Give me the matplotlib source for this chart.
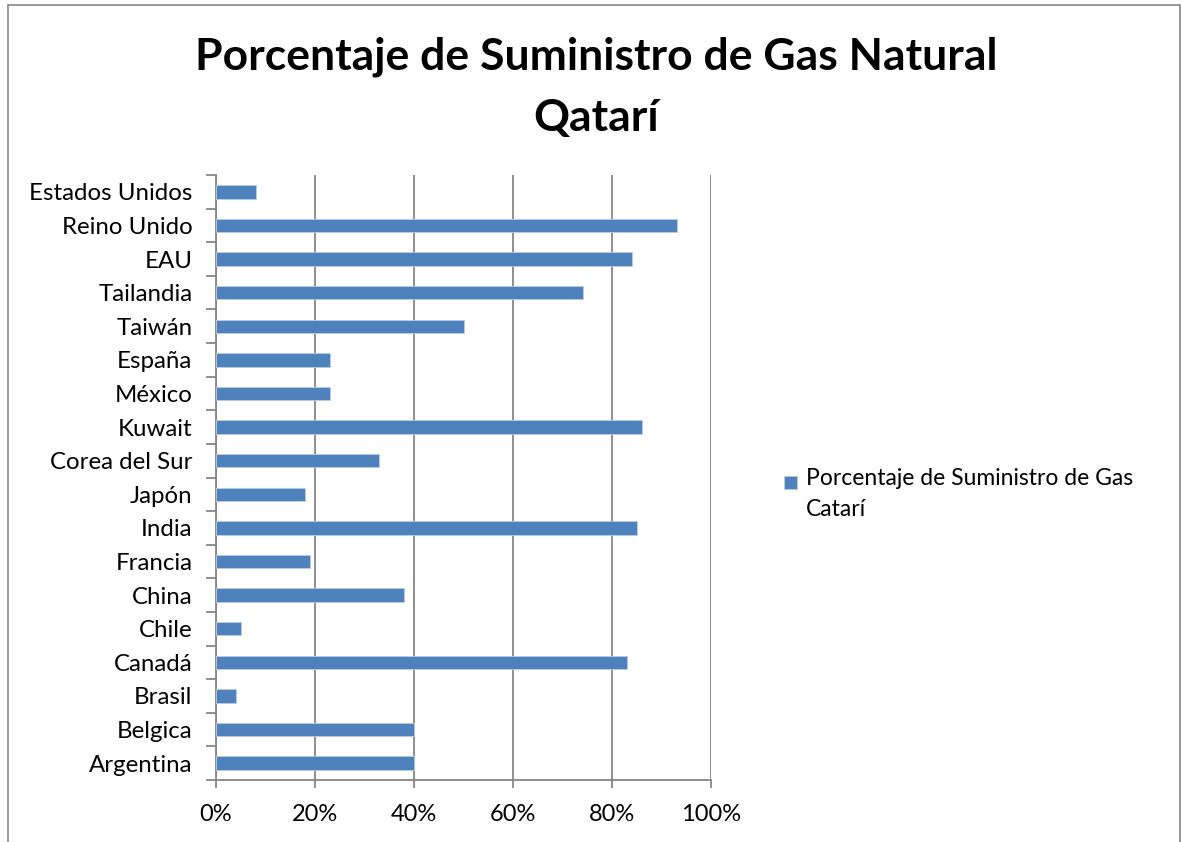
import matplotlib
matplotlib.use('Agg')
from matplotlib import pyplot as plt
from matplotlib.patches import Rectangle
from matplotlib.ticker import FuncFormatter

plt.rcParams['font.family'] = ['Lato', 'DejaVu Sans']

paises = ['Argentina', 'Belgica', 'Brasil', 'Canadá', 'Chile', 'China', 'Francia',
          'India', 'Japón', 'Corea del Sur', 'Kuwait', 'México', 'España', 'Taiwán',
          'Tailandia', 'EAU', 'Reino Unido', 'Estados Unidos']
porcentajes = [0.40, 0.40, 0.04, 0.83, 0.05, 0.38, 0.19,
               0.85, 0.18, 0.33, 0.86, 0.23, 0.23, 0.50,
               0.74, 0.84, 0.93, 0.08]
ticks_x = [0, 0.2, 0.4, 0.6, 0.8, 1.0]

titulo = 'Porcentaje de Suministro de Gas Natural\nQatarí'
serie = 'Porcentaje de Suministro de Gas\nCatarí'

W, H = 1183, 842
fig = plt.figure(figsize=(W / 100, H / 100), dpi=100)
ax = fig.add_axes([216 / W, 1 - 780 / H, (711.3 - 216) / W, (780 - 175) / H])

gris = '#868686'
azul = '#4F81BD'

# borde exterior del grafico
fig.patches.append(Rectangle((8 / W, -0.05), (1180 - 8) / W, 1.05 - 5 / H,
                             transform=fig.transFigure, fill=False,
                             edgecolor=gris, linewidth=1.2))

ax.barh(range(len(paises)), porcentajes, height=0.4, color=azul,
        edgecolor='#B9CDE5', linewidth=0.6, zorder=3)

ax.set_xlim(0, 1)
ax.set_ylim(-0.5, len(paises) - 0.5)
ax.set_xticks(ticks_x)
ax.xaxis.set_major_formatter(FuncFormatter(lambda v, p: '%d%%' % round(v * 100)))
ax.set_yticks(range(len(paises)))
ax.set_yticklabels(paises)
ax.set_yticks([i - 0.5 for i in range(len(paises) + 1)], minor=True)

ax.grid(axis='x', color=gris, linewidth=1.3, zorder=0)
for s in ['top', 'right']:
    ax.spines[s].set_visible(False)
for s in ['left', 'bottom']:
    ax.spines[s].set_color(gris)
    ax.spines[s].set_linewidth(1.3)

ax.tick_params(axis='y', which='major', length=0, pad=17, labelsize=17.3)
ax.tick_params(axis='y', which='minor', length=7, color=gris, width=1.3)
ax.tick_params(axis='x', length=6, color=gris, width=1.3, labelsize=17, pad=11)

fig.text(596 / W, 1 - 87 / H, titulo, ha='center', va='center',
         fontsize=32, fontweight='bold', linespacing=1.65)

# leyenda: cuadro alineado con la primera linea del texto
fig.patches.append(Rectangle((784 / W, 1 - 489 / H), 13 / W, 13 / H,
                             transform=fig.transFigure, facecolor=azul,
                             edgecolor='#B9CDE5', linewidth=0.6))
fig.text(806 / W, 1 - 468 / H, serie, ha='left', va='top',
         fontsize=16.5, linespacing=1.6)

plt.savefig('out.png', dpi=100)
